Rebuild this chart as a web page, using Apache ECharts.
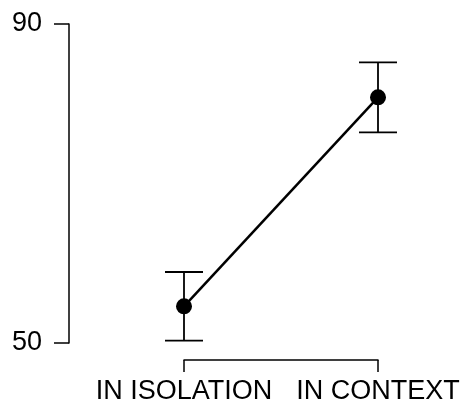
<!DOCTYPE html>
<html>
<head>
<meta charset="utf-8">
<script src="https://cdn.jsdelivr.net/npm/echarts@6/dist/echarts.min.js"></script>
<style>
  html, body { margin: 0; padding: 0; background: #fff; }
  #chart-container { width: 465px; height: 407px; }
</style>
</head>
<body>
<div id="chart-container"></div>
<script>
// values
const categories = ['IN ISOLATION', 'IN CONTEXT'];
const means = [54.6, 80.8];
const upper = [58.9, 85.2];
const lower = [50.3, 76.4];
const yTicks = [50, 90];

var chartDom = document.getElementById('chart-container');
var myChart = echarts.init(chartDom);
var option;

const errData = [];
for (let i = 0; i < categories.length; i++) {
    errData.push([i, lower[i], upper[i]]);
}

option = {
    animation: false,
    textStyle: {
        fontFamily: 'Liberation Sans, Arial, sans-serif'
    },
    grid: {
        left: 184,
        right: 87,
        top: 24,
        bottom: 64
    },
    xAxis: {
        type: 'category',
        boundaryGap: false,
        data: categories,
        offset: 17,
        axisLine: {
            show: true,
            lineStyle: { color: '#000', width: 1.5 }
        },
        axisTick: {
            show: true,
            length: 12,
            lineStyle: { color: '#000', width: 1.5 }
        },
        axisLabel: {
            color: '#000',
            fontSize: 27,
            margin: 18,
            interval: 0
        },
        splitLine: { show: false }
    },
    yAxis: {
        type: 'value',
        min: yTicks[0],
        max: yTicks[1],
        interval: yTicks[1] - yTicks[0],
        offset: 115,
        axisLine: {
            show: true,
            lineStyle: { color: '#000', width: 1.5 }
        },
        axisTick: {
            show: true,
            length: 15,
            lineStyle: { color: '#000', width: 1.5 }
        },
        axisLabel: {
            color: '#000',
            fontSize: 27,
            margin: 27
        },
        splitLine: { show: false }
    },
    series: [
        {
            type: 'custom',
            z: 2,
            renderItem: function (params, api) {
                const x = api.value(0);
                const lo = api.coord([x, api.value(1)]);
                const hi = api.coord([x, api.value(2)]);
                const hw = 19;
                const style = { stroke: '#000', lineWidth: 1.8 };
                return {
                    type: 'group',
                    children: [
                        { type: 'line', shape: { x1: lo[0], y1: lo[1], x2: hi[0], y2: hi[1] }, style: style },
                        { type: 'line', shape: { x1: lo[0] - hw, y1: lo[1], x2: lo[0] + hw, y2: lo[1] }, style: style },
                        { type: 'line', shape: { x1: hi[0] - hw, y1: hi[1], x2: hi[0] + hw, y2: hi[1] }, style: style }
                    ]
                };
            },
            data: errData
        },
        {
            type: 'line',
            z: 3,
            clip: false,
            data: means,
            symbol: 'circle',
            symbolSize: 16,
            itemStyle: { color: '#000' },
            lineStyle: { color: '#000', width: 2.5 }
        }
    ]
};

option && myChart.setOption(option);
</script>
</body>
</html>
